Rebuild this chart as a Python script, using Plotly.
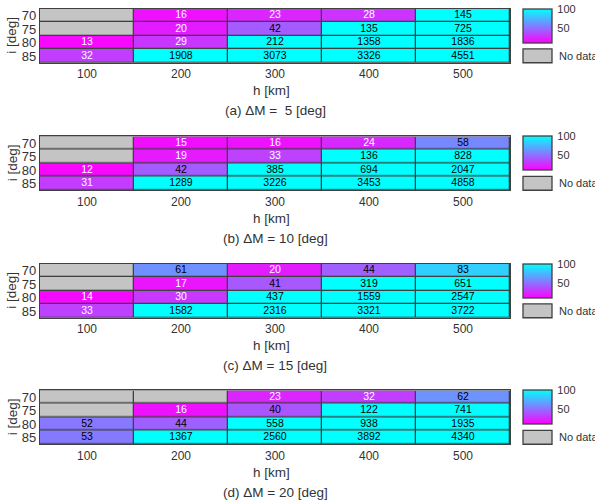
import plotly.graph_objects as go

W, H = 595, 503

h_km = [100, 200, 300, 400, 500]
inc_deg = [70, 75, 80, 85]

dM5 = [
    [None, 16, 23, 28, 145],
    [None, 20, 42, 135, 725],
    [13, 29, 212, 1358, 1836],
    [32, 1908, 3073, 3326, 4551],
]
dM10 = [
    [None, 15, 16, 24, 58],
    [None, 19, 33, 136, 828],
    [12, 42, 385, 694, 2047],
    [31, 1289, 3226, 3453, 4858],
]
dM15 = [
    [None, 61, 20, 44, 83],
    [None, 17, 41, 319, 651],
    [14, 30, 437, 1559, 2547],
    [33, 1582, 2316, 3321, 3722],
]
dM20 = [
    [None, None, 23, 32, 62],
    [None, 16, 40, 122, 741],
    [52, 44, 558, 938, 1935],
    [53, 1367, 2560, 3892, 4340],
]

panels = [
    ("(a) \u0394M = \u00a05 [deg]", dM5),
    ("(b) \u0394M = 10 [deg]", dM10),
    ("(c) \u0394M = 15 [deg]", dM15),
    ("(d) \u0394M = 20 [deg]", dM20),
]

# layout (pixels)
tops = [8, 136, 264, 391]
ph = 54
xl, xr = 40, 510
cb_x0, cb_x1 = 523, 552

BORDER = "#404040"
GRAY = "#c4c4c4"
TXT = "#333333"
FONT = "Liberation Sans, Arial, sans-serif"
cool_r = [[0, "#ff00ff"], [1, "#00ffff"]]


def py(p):
    return 1 - p / H


def px(p):
    return p / W


fig = go.Figure()
layout = dict(
    width=W, height=H,
    margin=dict(l=0, r=0, t=0, b=0),
    paper_bgcolor="white",
    plot_bgcolor=BORDER,
    showlegend=False,
    font=dict(family=FONT, color=TXT),
)
annotations = []
shapes = []

for k, (caption, z) in enumerate(panels):
    n = k + 1
    xa = "x" if n == 1 else f"x{n}"
    ya = "y" if n == 1 else f"y{n}"
    T = tops[k]
    B = T + ph

    nodata = [[1 if v is None else None for v in row] for row in z]
    fig.add_trace(go.Heatmap(
        x=h_km, y=inc_deg, z=nodata, xaxis=xa, yaxis=ya,
        colorscale=[[0, GRAY], [1, GRAY]], showscale=False,
        xgap=1.3, ygap=1.3, hoverinfo="skip",
    ))
    fig.add_trace(go.Heatmap(
        x=h_km, y=inc_deg, z=z, xaxis=xa, yaxis=ya,
        colorscale=cool_r, zmin=10, zmax=100,
        xgap=1.3, ygap=1.3, hoverongaps=False,
        colorbar=dict(
            x=px(cb_x0), xanchor="left", xpad=0,
            y=py(T), yanchor="top", ypad=0,
            thicknessmode="pixels", thickness=cb_x1 - cb_x0,
            lenmode="pixels", len=34,
            outlinewidth=1.3, outlinecolor=BORDER,
            tickvals=[50, 100], ticks="outside", ticklen=3,
            tickcolor="rgba(0,0,0,0)",
            tickfont=dict(size=11, color=TXT, family=FONT),
        ),
    ))
    xs, ys, ts, cs = [], [], [], []
    for i, row in enumerate(z):
        for j, v in enumerate(row):
            if v is None:
                continue
            xs.append(h_km[j])
            ys.append(inc_deg[i])
            ts.append(str(v))
            cs.append("white" if v < 35 else "black")
    fig.add_trace(go.Scatter(
        x=xs, y=ys, text=ts, mode="text", xaxis=xa, yaxis=ya,
        textfont=dict(size=10.5, color=cs, family=FONT),
        hoverinfo="skip",
    ))

    xkey = "xaxis" if n == 1 else f"xaxis{n}"
    ykey = "yaxis" if n == 1 else f"yaxis{n}"
    layout[xkey] = dict(
        domain=[px(xl), px(xr)], anchor=ya, range=[50, 550],
        tickvals=h_km, ticks="", showgrid=False, zeroline=False,
        showline=True, mirror=True, linecolor=BORDER, linewidth=1.3,
        tickfont=dict(size=12, color=TXT), fixedrange=True,
    )
    layout[ykey] = dict(
        domain=[py(B), py(T)], anchor=xa, range=[87.5, 67.5],
        tickvals=inc_deg, ticks="", showgrid=False, zeroline=False,
        showline=True, mirror=True, linecolor=BORDER, linewidth=1.3,
        tickfont=dict(size=13, color=TXT), ticklabelstandoff=0,
        fixedrange=True,
    )
    annotations.append(dict(
        text="i [deg]", textangle=-90, x=px(12), y=py((T + B) / 2),
        xref="paper", yref="paper", showarrow=False,
        xanchor="center", yanchor="middle",
        font=dict(size=13.5, color=TXT),
    ))
    annotations.append(dict(
        text="h [km]", x=px(271), y=py(B + 28),
        xref="paper", yref="paper", showarrow=False,
        xanchor="center", yanchor="middle",
        font=dict(size=13.5, color=TXT),
    ))
    annotations.append(dict(
        text=caption, x=px(275), y=py(B + 48),
        xref="paper", yref="paper", showarrow=False,
        xanchor="center", yanchor="middle",
        font=dict(size=13.5, color=TXT),
    ))
    shapes.append(dict(
        type="rect", xref="paper", yref="paper",
        x0=px(cb_x0), x1=px(cb_x1), y0=py(B), y1=py(B - 14),
        fillcolor=GRAY, line=dict(color=BORDER, width=1.3),
    ))
    annotations.append(dict(
        text="No data", x=px(557), y=py(B - 7),
        xref="paper", yref="paper", showarrow=False,
        xanchor="left", yanchor="middle",
        font=dict(size=11, color=TXT),
    ))

layout["annotations"] = annotations
layout["shapes"] = shapes
fig.update_layout(**layout)
fig.write_html(
    "out.html",
    config={"displayModeBar": False},
    post_script="document.body.style.margin='0';document.body.style.overflow='hidden';",
)
